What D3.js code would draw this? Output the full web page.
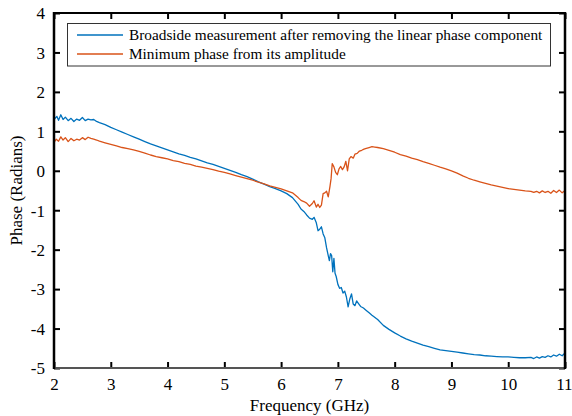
<!DOCTYPE html>
<html>
<head>
<meta charset="utf-8">
<script src="https://cdn.jsdelivr.net/npm/d3@7"></script>
<style>
  html, body { margin: 0; padding: 0; background: #fff; }
  svg { display: block; }
  text { font-family: "Liberation Serif", "Times New Roman", serif; fill: #000; }
</style>
</head>
<body>
<svg id="chart" width="572" height="416"></svg>
<script>
// Broadside phase after removing linear component (frequency in GHz, phase in radians)
const broadsideFreq = [
  2.00,2.05,2.08,2.12,2.16,2.20,2.25,2.30,2.35,2.40,2.45,2.50,2.55,2.60,2.65,2.70,2.75,2.80,2.90,
  3.00,3.10,3.20,3.30,3.40,3.50,3.60,3.70,3.80,3.90,4.00,4.10,4.20,4.30,4.40,4.50,4.60,4.70,4.80,4.90,
  5.00,5.10,5.20,5.30,5.40,5.50,5.60,5.70,5.80,5.90,6.00,6.10,6.20,6.30,6.35,6.40,6.45,6.50,6.55,6.58,
  6.62,6.65,6.68,6.71,6.74,6.77,6.80,6.83,6.85,6.87,6.89,6.91,6.93,6.95,6.97,7.00,7.03,7.06,7.09,7.12,
  7.15,7.18,7.21,7.24,7.27,7.30,7.33,7.36,7.40,7.45,7.50,7.55,7.60,7.70,7.80,7.90,8.00,8.10,8.20,8.30,
  8.40,8.50,8.60,8.70,8.80,8.90,9.00,9.10,9.20,9.30,9.40,9.50,9.60,9.70,9.80,9.90,10.00,10.10,10.20,
  10.30,10.40,10.45,10.50,10.55,10.60,10.65,10.70,10.75,10.80,10.85,10.90,10.95,11.00
];
const broadsidePhase = [
  1.30,1.38,1.28,1.42,1.30,1.36,1.27,1.33,1.25,1.31,1.28,1.35,1.27,1.31,1.29,1.30,1.25,1.22,1.17,
  1.10,1.04,0.98,0.92,0.86,0.80,0.74,0.68,0.63,0.58,0.53,0.48,0.43,0.39,0.34,0.30,0.25,0.20,0.16,0.11,
  0.06,0.01,-0.04,-0.10,-0.15,-0.21,-0.28,-0.34,-0.40,-0.45,-0.51,-0.58,-0.68,-0.85,-0.97,-1.03,-1.12,-1.20,-1.23,-1.18,
  -1.32,-1.52,-1.48,-1.42,-1.60,-1.70,-1.95,-2.15,-2.28,-2.10,-2.15,-2.56,-2.22,-2.60,-2.68,-2.88,-2.98,-2.96,-3.10,-3.05,
  -3.20,-3.45,-3.25,-3.12,-3.38,-3.42,-3.30,-3.36,-3.44,-3.48,-3.54,-3.60,-3.66,-3.77,-3.92,-4.02,-4.11,-4.19,-4.26,-4.32,
  -4.37,-4.42,-4.46,-4.50,-4.54,-4.56,-4.58,-4.60,-4.62,-4.64,-4.66,-4.67,-4.69,-4.70,-4.71,-4.72,-4.72,-4.73,-4.74,
  -4.74,-4.73,-4.76,-4.72,-4.75,-4.71,-4.73,-4.69,-4.72,-4.67,-4.70,-4.65,-4.69,-4.62
];

// Minimum phase recovered from the amplitude
const minPhaseFreq = [
  2.00,2.04,2.08,2.12,2.16,2.20,2.25,2.30,2.35,2.40,2.45,2.50,2.55,2.60,2.65,2.70,2.75,2.80,2.90,
  3.00,3.10,3.20,3.30,3.40,3.50,3.60,3.70,3.80,3.90,4.00,4.10,4.20,4.30,4.40,4.50,4.60,4.70,4.80,4.90,
  5.00,5.10,5.20,5.30,5.40,5.50,5.60,5.70,5.80,5.90,6.00,6.10,6.20,6.30,6.35,6.40,6.45,6.50,6.55,6.58,
  6.62,6.65,6.68,6.71,6.74,6.77,6.80,6.83,6.86,6.88,6.90,6.93,6.96,6.99,7.02,7.05,7.08,7.11,7.14,7.17,
  7.20,7.23,7.27,7.30,7.34,7.38,7.42,7.46,7.50,7.55,7.60,7.65,7.70,7.80,7.90,8.00,8.10,8.20,8.30,
  8.40,8.50,8.60,8.70,8.80,8.90,9.00,9.10,9.20,9.30,9.40,9.50,9.60,9.70,9.80,9.90,10.00,10.10,10.20,
  10.30,10.40,10.45,10.50,10.55,10.60,10.65,10.70,10.75,10.80,10.85,10.90,10.95,11.00
];
const minPhaseValue = [
  0.72,0.80,0.75,0.86,0.78,0.84,0.74,0.82,0.76,0.80,0.78,0.84,0.79,0.85,0.82,0.80,0.78,0.75,0.71,
  0.67,0.63,0.59,0.56,0.53,0.49,0.45,0.40,0.36,0.33,0.30,0.26,0.23,0.19,0.16,0.12,0.09,0.06,0.03,-0.01,
  -0.04,-0.08,-0.12,-0.16,-0.20,-0.24,-0.29,-0.33,-0.38,-0.42,-0.46,-0.51,-0.56,-0.68,-0.75,-0.78,-0.82,-0.90,-0.83,-0.76,
  -0.92,-0.85,-0.93,-0.87,-0.58,-0.56,-0.52,-0.66,-0.40,-0.20,0.18,0.10,-0.04,-0.10,0.05,0.11,0.03,0.10,0.24,0.00,
  0.30,0.36,0.32,0.42,0.44,0.50,0.52,0.55,0.57,0.59,0.61,0.60,0.59,0.56,0.52,0.47,0.41,0.37,0.32,
  0.28,0.23,0.19,0.14,0.09,0.05,0.00,-0.06,-0.13,-0.19,-0.24,-0.28,-0.32,-0.36,-0.39,-0.42,-0.45,-0.47,-0.49,
  -0.51,-0.52,-0.55,-0.52,-0.56,-0.51,-0.55,-0.52,-0.57,-0.50,-0.55,-0.49,-0.56,-0.50
];

const xTicks = [2, 3, 4, 5, 6, 7, 8, 9, 10, 11];
const yTicks = [-5, -4, -3, -2, -1, 0, 1, 2, 3, 4];
const seriesNames = [
  "Broadside measurement after removing the linear phase component",
  "Minimum phase from its amplitude"
];
const seriesColors = ["#0072BD", "#D95319"];

const svg = d3.select("#chart");
const L = 54, R = 565, T = 13, B = 368;

const x = d3.scaleLinear().domain([2, 11]).range([L, R]);
const y = d3.scaleLinear().domain([-5, 4]).range([B, T]);

// data lines
const line = d3.line().x(d => x(d[0])).y(d => y(d[1]));
const series = [
  d3.zip(broadsideFreq, broadsidePhase),
  d3.zip(minPhaseFreq, minPhaseValue)
];
svg.append("g").selectAll("path").data(series).join("path")
  .attr("d", line)
  .attr("fill", "none")
  .attr("stroke", (d, i) => seriesColors[i])
  .attr("stroke-width", 1.3)
  .attr("stroke-linejoin", "round");

// axes with inward ticks on all four sides
const tickLen = 6;
const fmt = d => String(d);

const axBottom = svg.append("g").attr("transform", `translate(0,${B})`)
  .call(d3.axisBottom(x).tickValues(xTicks).tickSizeInner(-tickLen).tickSizeOuter(0).tickPadding(10).tickFormat(fmt));
const axTop = svg.append("g").attr("transform", `translate(0,${T})`)
  .call(d3.axisTop(x).tickValues(xTicks).tickSizeInner(-tickLen).tickSizeOuter(0).tickFormat(""));
const axLeft = svg.append("g").attr("transform", `translate(${L},0)`)
  .call(d3.axisLeft(y).tickValues(yTicks).tickSizeInner(-tickLen).tickSizeOuter(0).tickPadding(9).tickFormat(fmt));
const axRight = svg.append("g").attr("transform", `translate(${R},0)`)
  .call(d3.axisRight(y).tickValues(yTicks).tickSizeInner(-tickLen).tickSizeOuter(0).tickFormat(""));

[axBottom, axTop, axLeft, axRight].forEach(g => {
  g.select(".domain").remove();
  g.selectAll(".tick line").attr("stroke", "#000").attr("stroke-width", 2);
  g.selectAll("text").attr("font-family", "Liberation Serif").attr("font-size", 17).attr("fill", "#000");
});
axBottom.selectAll(".tick text").attr("dy", "0.71em");
// keep the last frequency label inside the page edge
axBottom.selectAll(".tick").filter(d => d === 11).select("text").attr("text-anchor", "end").attr("x", 7);
axLeft.selectAll(".tick text").attr("dy", "0.34em");

// axes frame
svg.append("line").attr("x1", L).attr("x2", R).attr("y1", B).attr("y2", B)
  .attr("stroke", "#555").attr("stroke-width", 2);
svg.append("line").attr("x1", L).attr("x2", R).attr("y1", T).attr("y2", T)
  .attr("stroke", "#000").attr("stroke-width", 2);
svg.append("line").attr("x1", L).attr("x2", L).attr("y1", T - 1).attr("y2", B + 1)
  .attr("stroke", "#000").attr("stroke-width", 2.5);
svg.append("line").attr("x1", R).attr("x2", R).attr("y1", T - 1).attr("y2", B + 1)
  .attr("stroke", "#000").attr("stroke-width", 2.5);

// axis titles
svg.append("text")
  .attr("x", (L + R) / 2).attr("y", 411)
  .attr("text-anchor", "middle").attr("font-size", 17)
  .text("Frequency (GHz)");
svg.append("text")
  .attr("transform", `translate(22,${(T + B) / 2}) rotate(-90)`)
  .attr("text-anchor", "middle").attr("font-size", 17)
  .text("Phase (Radians)");

// legend
const lg = svg.append("g");
lg.append("rect")
  .attr("x", 67.5).attr("y", 23.5).attr("width", 483).attr("height", 42.5)
  .attr("fill", "#fff").attr("stroke", "#333").attr("stroke-width", 1);
seriesNames.forEach((name, i) => {
  const yy = 35 + i * 19;
  lg.append("line").attr("x1", 77).attr("x2", 123).attr("y1", yy).attr("y2", yy)
    .attr("stroke", seriesColors[i]).attr("stroke-width", 1.3);
  lg.append("text").attr("x", 129).attr("y", yy).attr("dy", "0.34em")
    .attr("font-size", 15.3).text(name);
});
</script>
</body>
</html>
